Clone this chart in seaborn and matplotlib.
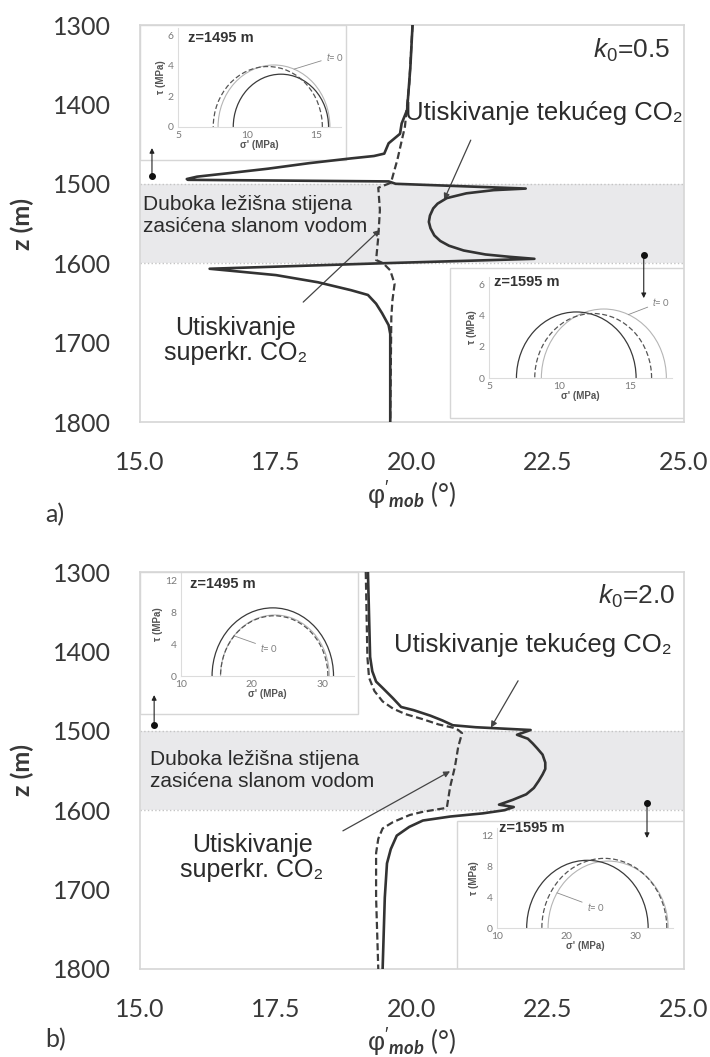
import numpy as np
import pandas as pd
import matplotlib
matplotlib.use('Agg')
import matplotlib.pyplot as plt
import seaborn as sns
from matplotlib.patches import Arc, Rectangle

# a) k0 = 0.5 -- puna linija: tekuci CO2, crtkana: superkriticni CO2
z_a_liq = [1300, 1353, 1407, 1424, 1437, 1449, 1462, 1465, 1468, 1474, 1481, 1487, 1491, 1494, 1495,
           1497, 1500, 1506, 1508, 1512, 1518, 1525, 1531, 1540, 1548, 1556, 1565, 1572, 1578, 1584, 1589,
           1592, 1594.5, 1600, 1607, 1610, 1615, 1624, 1634, 1640, 1651, 1663, 1678, 1689, 1800]
phi_a_liq = [20.01, 19.97, 19.91, 19.81, 19.78, 19.57, 19.49, 19.30, 18.88, 18.11, 17.35, 16.58, 16.05, 15.86, 15.88,
             19.57, 19.70, 22.09, 21.50, 21.00, 20.64, 20.47, 20.39, 20.33, 20.31, 20.34, 20.41, 20.52, 20.68, 20.95,
             21.35, 21.80, 22.25, 19.49, 16.28, 16.74, 17.50, 18.27, 18.88, 19.19, 19.34, 19.45, 19.57, 19.60, 19.60]
z_a_sc = [1300, 1374, 1428, 1449, 1470, 1487, 1497, 1499, 1505, 1533, 1567, 1596, 1600, 1609, 1626, 1647, 1668, 1800]
phi_a_sc = [20.01, 19.95, 19.87, 19.80, 19.73, 19.66, 19.62, 19.60, 19.38, 19.41, 19.38, 19.34, 19.47, 19.60,
            19.68, 19.64, 19.62, 19.60]

# b) k0 = 2.0
z_b_liq = [1300, 1407, 1425, 1438, 1446, 1459, 1470, 1474, 1481, 1487, 1493, 1495.5, 1499, 1505, 1510, 1516,
           1522, 1530, 1540, 1548, 1555, 1563, 1572, 1580, 1587, 1593, 1596, 1600, 1604, 1608, 1613, 1621,
           1632, 1649, 1667, 1710, 1800]
phi_b_liq = [19.19, 19.23, 19.27, 19.34, 19.46, 19.65, 19.80, 20.03, 20.34, 20.56, 20.75, 21.17, 22.18, 21.93, 22.13, 22.22,
             22.30, 22.40, 22.45, 22.45, 22.40, 22.33, 22.24, 22.10, 21.85, 21.60, 21.87, 21.70, 21.30, 20.70, 20.20, 19.95,
             19.72, 19.61, 19.54, 19.50, 19.46]
z_b_sc = [1300, 1407, 1433, 1450, 1463, 1472, 1479, 1485, 1492, 1496, 1499, 1503, 1520, 1545, 1571, 1597, 1602,
          1606, 1615, 1623, 1636, 1654, 1710, 1800]
phi_b_sc = [19.15, 19.18, 19.21, 19.31, 19.46, 19.65, 19.88, 20.18, 20.49, 20.75, 20.85, 20.92, 20.85, 20.79, 20.70,
            20.64, 20.20, 19.96, 19.65, 19.46, 19.38, 19.34, 19.34, 19.38]

# Mohrove kruznice (sredina, polumjer u MPa): t=0, tekuci, superkr.
a1495_centre = [11.95, 12.45, 11.50]
a1495_radius = [4.05, 3.45, 3.95]
a1595_centre = [13.16, 11.20, 12.40]
a1595_radius = [4.44, 4.25, 4.15]
b1495_centre = [23.30, 23.00, 23.20]
b1495_radius = [7.70, 8.60, 7.60]
b1595_centre = [26.10, 23.10, 25.55]
b1595_radius = [8.70, 8.80, 9.05]

x_ticks = [15.0, 17.5, 20.0, 22.5, 25.0]
y_ticks = [1300, 1400, 1500, 1600, 1700, 1800]

sns.set_theme(style='white')
plt.rcParams['font.family'] = ['Lato', 'DejaVu Sans']
plt.rcParams['mathtext.fontset'] = 'custom'
plt.rcParams['mathtext.rm'] = 'Liberation Sans'
plt.rcParams['mathtext.it'] = 'Liberation Sans:italic'
plt.rcParams['mathtext.bf'] = 'Lato:bold'
plt.rcParams['mathtext.bfit'] = 'Lato:italic:bold'
plt.rcParams['mathtext.fallback'] = 'stixsans'

ARIAL = ['Liberation Sans', 'DejaVu Sans']
GRID = '#d6d6d6'
INK = '#2b2b2b'

fig = plt.figure(figsize=(7.1, 10.57), dpi=100)


def px(l, b, w, h):
    # pikseli (od gornjeg lijevog kuta) -> dio slike
    return [l / 710, 1 - (b) / 1057, w / 710, h / 1057]


def mohr(rect, xlim, ylim, xt, yt, centre, radius, title, title_xy, t0_txt, t0_pt):
    ax = fig.add_axes(rect)
    ax.set_facecolor('none')
    styles = [dict(color='#b5b5b5', lw=0.8, ls='-'),
              dict(color='#3a3a3a', lw=0.9, ls='-'),
              dict(color='#555555', lw=0.9, ls=(0, (4, 2)))]
    for c, r, st in zip(centre, radius, styles):
        ax.add_patch(Arc((c, 0), 2 * r, 2 * r, theta1=0, theta2=180, **st))
    ax.set_xlim(*xlim)
    ax.set_ylim(*ylim)
    ax.set_xticks(xt)
    ax.set_yticks(yt)
    for s in ['top', 'right']:
        ax.spines[s].set_visible(False)
    for s in ['left', 'bottom']:
        ax.spines[s].set_color('#dcdcdc')
        ax.spines[s].set_linewidth(0.8)
    ax.tick_params(length=0, pad=3, labelsize=7.5, labelcolor='#7a7a7a')
    ax.set_xlabel("σ' (MPa)", fontsize=7, fontweight='bold', family=ARIAL, color='#555555', labelpad=0)
    ax.set_ylabel('τ (MPa)', fontsize=7, fontweight='bold', family=ARIAL, color='#555555', labelpad=1)
    ax.text(title_xy[0], title_xy[1], title, transform=ax.transAxes, fontsize=10.5, fontweight='bold',
            family=ARIAL, color='#333333', va='center', ha='left')
    ax.annotate(r'$\mathit{t}$= 0', xy=t0_pt, xytext=t0_txt, fontsize=7, color='#808080', va='center',
                arrowprops=dict(arrowstyle='-', color='#8a8a8a', lw=0.6, shrinkA=1, shrinkB=0))
    return ax


panels = [
    dict(rect=px(140, 422, 544, 397), liq=(z_a_liq, phi_a_liq), sc=(z_a_sc, phi_a_sc), k='0.5', lab='a)',
         lab_y=515, ktxt=(24.75, 1332), tek=(22.43, 1411), tek_arrow=((21.08, 1445), (20.59, 1520)),
         dub=(15.06, 1540), sup=(16.76, 1697), sup_arrow=((18.0, 1649), (19.41, 1558)),
         dots=[(15.22, 1490, 1455), (24.26, 1590, 1644)],
         frames=[(15, 1300, 18.79, 1470), (20.70, 1606, 25, 1795)]),
    dict(rect=px(140, 969, 544, 397), liq=(z_b_liq, phi_b_liq), sc=(z_b_sc, phi_b_sc), k='2.0', lab='b)',
         lab_y=1040, ktxt=(24.83, 1331), tek=(22.22, 1392), tek_arrow=((21.95, 1437), (21.45, 1496)),
         dub=(15.18, 1550), sup=(17.06, 1660), sup_arrow=((18.73, 1626), (20.70, 1551)),
         dots=[(15.26, 1493, 1455), (24.32, 1591, 1635)],
         frames=[(15, 1300, 19.0, 1479), (20.83, 1614, 25, 1800)]),
]

for p in panels:
    ax = fig.add_axes(p['rect'])
    ax.set_facecolor('white')

    # lezisna stijena 1500-1600 m
    ax.axhspan(1500, 1600, color='#e9e9eb', zorder=0, lw=0)
    for zz in [1500, 1600]:
        ax.axhline(zz, color='#c4c4c4', ls=':', lw=1.0, zorder=1)

    # okviri za umetnute grafove
    for x0, y0, x1, y1 in p['frames']:
        ax.add_patch(Rectangle((x0, y0), x1 - x0, y1 - y0, facecolor='white', edgecolor=GRID, lw=1.0, zorder=2))

    df_liq = pd.DataFrame({'z': p['liq'][0], 'phi': p['liq'][1]})
    df_sc = pd.DataFrame({'z': p['sc'][0], 'phi': p['sc'][1]})
    sns.lineplot(data=df_sc, x='phi', y='z', sort=False, estimator=None, ax=ax, color='#3c3c3c', lw=1.6,
                 linestyle=(0, (3.2, 1.6)), zorder=4)
    sns.lineplot(data=df_liq, x='phi', y='z', sort=False, estimator=None, ax=ax, color='#333333', lw=1.9,
                 zorder=5)

    ax.set_xlim(15, 25)
    ax.set_ylim(1800, 1300)
    ax.set_xticks(x_ticks)
    ax.set_xticklabels([f'{v:.1f}' for v in x_ticks])
    ax.set_yticks(y_ticks)
    for s in ax.spines.values():
        s.set_visible(True)
        s.set_color(GRID)
        s.set_linewidth(1.2)
    ax.tick_params(axis='both', direction='out', length=7, width=1.2, color=GRID, labelsize=18,
                   labelcolor='#383838')
    ax.tick_params(axis='y', pad=14)
    ax.tick_params(axis='x', pad=14)

    ax.set_xlabel(r"$\mathrm{\varphi}'_{\mathbfit{mob}}$ (°)", fontsize=19, color='#383838')
    ax.xaxis.set_label_coords(0.5, -0.145)
    ax.set_ylabel('z (m)', fontsize=18, fontweight='bold', color='#383838')
    ax.yaxis.set_label_coords(-0.195, 0.5)

    ax.text(p['ktxt'][0], p['ktxt'][1], r'$\mathit{k_0}$=' + p['k'], fontsize=19, family=ARIAL,
            color='#333333', ha='right', va='center')
    ax.text(p['tek'][0], p['tek'][1], 'Utiskivanje tekućeg CO₂', fontsize=18.5, family=ARIAL, color=INK,
            ha='center', va='center')
    ax.annotate('', xy=p['tek_arrow'][1], xytext=p['tek_arrow'][0],
                arrowprops=dict(arrowstyle='-|>', color='#444444', lw=0.9, mutation_scale=9, shrinkA=0, shrinkB=0))
    ax.text(p['dub'][0], p['dub'][1], 'Duboka ležišna stijena\nzasićena slanom vodom', fontsize=15,
            family=ARIAL, color=INK, ha='left', va='center', linespacing=1.15, zorder=3)
    ax.text(p['sup'][0], p['sup'][1], 'Utiskivanje\nsuperkr. CO₂', fontsize=18, family=ARIAL, color=INK,
            ha='center', va='center', linespacing=1.05)
    ax.annotate('', xy=p['sup_arrow'][1], xytext=p['sup_arrow'][0],
                arrowprops=dict(arrowstyle='-|>', color='#444444', lw=0.9, mutation_scale=9, shrinkA=0, shrinkB=0))

    for x, zd, zh in p['dots']:
        ax.plot([x], [zd], 'o', ms=4, color='#111111', zorder=6)
        ax.annotate('', xy=(x, zh), xytext=(x, zd),
                    arrowprops=dict(arrowstyle='-|>', color='#222222', lw=0.8, mutation_scale=7, shrinkA=0, shrinkB=0))

    fig.text(45 / 710, 1 - p['lab_y'] / 1057, p['lab'], fontsize=18, color='#383838', va='center')

# umetnuti Mohrovi dijagrami
mohr(px(178, 127, 163, 99.5), (5, 16.8), (0, 6.5), [5, 10, 15], [0, 2, 4, 6],
     a1495_centre, a1495_radius, 'z=1495 m', (0.06, 0.89), (15.7, 4.6), (13.4, 3.78))
mohr(px(489, 378, 183, 101), (5, 18), (0, 6.5), [5, 10, 15], [0, 2, 4, 6],
     a1595_centre, a1595_radius, 'z=1595 m', (0.03, 0.95), (16.6, 4.9), (14.9, 4.08))
mohr(px(181, 676, 173, 103), (10, 34.5), (0, 13), [10, 20, 30], [0, 4, 8, 12],
     b1495_centre, b1495_radius, 'z=1495 m', (0.05, 0.89), (21.2, 3.5), (17.5, 5.07))
mohr(px(497, 928, 176, 100), (10, 35.5), (0, 13), [10, 20, 30], [0, 4, 8, 12],
     b1595_centre, b1595_radius, 'z=1595 m', (0.01, 1.0), (23.0, 2.7), (18.7, 4.57))

fig.savefig('out.png', dpi=100)
